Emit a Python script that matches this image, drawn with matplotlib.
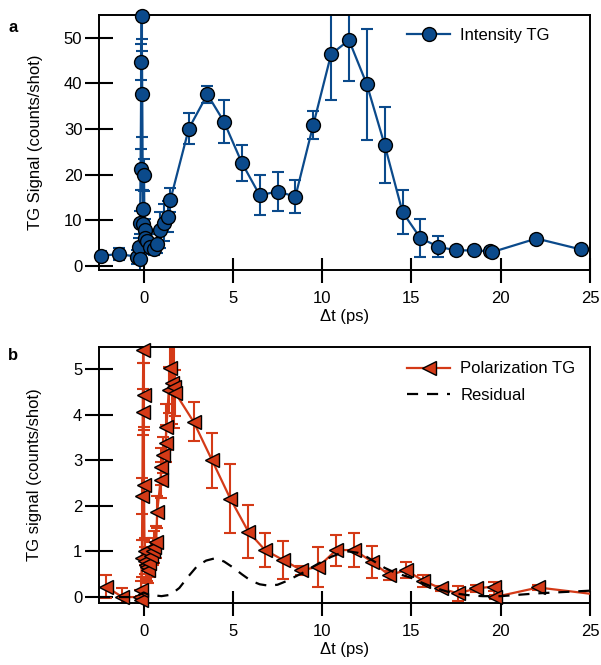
import matplotlib
matplotlib.use("Agg")
import matplotlib.pyplot as plt

plt.rcParams['font.family'] = ['Liberation Sans', 'DejaVu Sans']
plt.rcParams['font.size'] = 12

# ---- Panel a: Intensity TG ----
int_t = [-2.4, -1.4, -0.35, -0.26, -0.22, -0.2, -0.17, -0.13, -0.11, -0.08, -0.04,
         -0.02, 0.02, 0.05, 0.1, 0.17, 0.35, 0.57, 0.76, 0.9, 1.13, 1.35, 1.5,
         2.53, 3.57, 4.5, 5.5, 6.5, 7.5, 8.5, 9.5, 10.5, 11.5, 12.5, 13.5, 14.5,
         15.5, 16.5, 17.5, 18.5, 19.4, 19.5, 22.0, 24.5]
int_y = [2.2, 2.6, 2.0, 4.1, 1.6, 9.5, 21.2, 44.7, 54.7, 37.6, 12.4,
         9.1, 20.0, 7.8, 6.1, 5.5, 4.1, 3.8, 4.9, 7.9, 9.5, 10.8, 14.5,
         30.1, 37.6, 31.6, 22.6, 15.5, 16.3, 15.2, 30.9, 46.4, 49.5, 39.8, 26.5, 11.8,
         6.1, 4.2, 3.4, 3.4, 3.2, 3.0, 6.0, 3.6]
int_err = [1.0, 1.3, 1.5, 2.0, 3.1, 2.5, 4.5, 4.0, 5.0, 9.4, 4.2,
           3.0, 3.5, 2.5, 2.0, 2.0, 1.5, 1.5, 2.0, 4.0, 4.0, 3.4, 2.6,
           3.4, 1.8, 4.7, 3.9, 4.4, 4.2, 3.6, 3.0, 10.0, 8.9, 12.1, 8.4, 4.9,
           4.1, 2.3, 0.8, 0.8, 0.8, 0.8, 0.5, 0.5]

# ---- Panel b: Polarization TG ----
pol_t = [-2.12, -1.19, -0.2, -0.17, -0.15, -0.1, -0.07, -0.05, -0.02, 0.0, 0.02,
         0.05, 0.1, 0.15, 0.2, 0.25, 0.3, 0.4, 0.5, 0.6, 0.7, 0.76, 0.95, 1.0,
         1.1, 1.23, 1.28, 1.41, 1.5, 1.6, 1.69, 1.78, 2.8, 3.83, 4.85, 5.87,
         6.8, 7.82, 8.84, 9.77, 10.79, 11.81, 12.8, 13.76, 14.69, 15.65, 16.64,
         17.62, 18.62, 19.6, 19.66, 22.1, 25.5]
pol_y = [0.23, 0.0, 0.0, -0.07, 0.15, 0.85, 2.22, 4.06, 5.42, 4.43, 2.46,
         1.0, 0.8, 0.7, 0.65, 0.6, 0.75, 0.9, 1.0, 1.1, 1.2, 1.87, 2.57, 2.86,
         3.11, 3.37, 3.73, 4.54, 5.01, 4.69, 4.6, 4.47, 3.84, 3.0, 2.16, 1.43,
         1.03, 0.81, 0.59, 0.66, 1.03, 1.03, 0.77, 0.48, 0.59, 0.36, 0.19,
         0.08, 0.19, 0.23, 0.0, 0.21, 0.05]
pol_err = [0.26, 0.2, 0.15, 0.1, 0.2, 0.4, 0.4, 0.5, 0.3, 0.7, 1.2,
           0.3, 0.3, 0.3, 0.3, 0.3, 0.3, 0.3, 0.3, 0.35, 0.35, 0.35, 0.4, 0.4,
           0.4, 0.4, 0.5, 0.5, 0.5, 0.9, 0.9, 0.5, 0.43, 0.6, 0.76, 0.58,
           0.38, 0.41, 0.1, 0.44, 0.34, 0.37, 0.35, 0.1, 0.18, 0.13, 0.05,
           0.16, 0.08, 0.1, 0.05, 0.05, 0.0]

res_t = [-2.5, -0.5, 0.0, 0.3, 1.0, 1.5, 2.0, 2.5, 3.0, 3.5, 4.0, 4.5, 5.0, 5.5,
         6.0, 6.5, 7.0, 7.5, 8.0, 8.5, 9.0, 9.5, 10.0, 10.5, 11.0, 11.5, 12.0,
         12.5, 13.0, 13.5, 14.0, 14.5, 15.0, 15.5, 16.0, 16.5, 17.0, 17.5, 18.0,
         18.5, 19.0, 20.0, 21.0, 22.0, 23.0, 24.0, 25.0]
res_y = [0.0, 0.0, 0.1, 0.05, 0.02, 0.05, 0.2, 0.45, 0.68, 0.8, 0.85, 0.78,
         0.65, 0.5, 0.36, 0.28, 0.25, 0.27, 0.35, 0.45, 0.55, 0.67, 0.78, 0.88,
         0.96, 1.0, 0.97, 0.88, 0.76, 0.64, 0.55, 0.48, 0.42, 0.33, 0.25, 0.18,
         0.12, 0.08, 0.05, 0.03, 0.02, 0.02, 0.05, 0.08, 0.1, 0.12, 0.14]

x_ticks = [0, 5, 10, 15, 20, 25]
a_yticks = [0, 10, 20, 30, 40, 50]
b_yticks = [0, 1, 2, 3, 4, 5]

BLUE = '#0b4a8b'
RED = '#d43a17'

W, H = 601, 665
fig = plt.figure(figsize=(W / 100, H / 100), dpi=100)


def px_axes(l, t, r, b):
    return fig.add_axes([l / W, 1 - b / H, (r - l) / W, (b - t) / H])


ax1 = px_axes(99, 15, 590, 270)
ax2 = px_axes(99, 347, 590, 603)


def style(ax):
    for s in ax.spines.values():
        s.set_linewidth(1.4)
    ax.tick_params(axis='both', direction='inout', width=1.5,
                   labelsize=12, top=False, right=False)
    ax.tick_params(axis='y', length=20, pad=2)
    ax.tick_params(axis='x', length=18, pad=6)
    ax.set_xlim(-2.5, 25)
    ax.set_xticks(x_ticks)
    ax.set_xlabel('Δt (ps)', fontsize=12, labelpad=2)


# Panel a
ax1.errorbar(int_t, int_y, yerr=int_err, fmt='none', ecolor=BLUE,
             elinewidth=1.5, capsize=4, capthick=1.5, zorder=2)
ax1.plot(int_t, int_y, '-o', color=BLUE, lw=1.6, ms=10, mfc=BLUE, mec='black',
         mew=1.0, label='Intensity TG', zorder=3, clip_on=False)
style(ax1)
ax1.set_ylim(-0.9, 55)
ax1.set_yticks(a_yticks)
ax1.set_ylabel('TG Signal (counts/shot)', fontsize=12, labelpad=15)
ax1.legend(loc='upper left', bbox_to_anchor=(0.627, 0.948), frameon=False,
           handlelength=2.6, handletextpad=0.6, borderpad=0, borderaxespad=0,
           fontsize=12)

# Panel b
ax2.errorbar(pol_t, pol_y, yerr=pol_err, fmt='none', ecolor=RED,
             elinewidth=1.5, capsize=4, capthick=1.5, zorder=2)
ax2.plot(pol_t, pol_y, '-', color=RED, lw=1.6, zorder=3)
ax2.plot(pol_t[:-1], pol_y[:-1], ls='none', marker='<', ms=10, mfc=RED,
         mec='black', mew=1.0, zorder=3.5, clip_on=False)
ax2.plot([], [], '-<', color=RED, lw=1.6, ms=10, mfc=RED, mec='black',
         mew=1.0, label='Polarization TG')
ax2.plot(res_t, res_y, color='black', lw=1.6, ls=(0, (5, 4)), label='Residual',
         zorder=4)
style(ax2)
ax2.set_ylim(-0.13, 5.48)
ax2.set_yticks(b_yticks)
ax2.set_ylabel('TG signal (counts/shot)', fontsize=12, labelpad=22)
ax2.legend(loc='upper left', bbox_to_anchor=(0.627, 0.944), frameon=False,
           handlelength=2.6, handletextpad=0.6, borderpad=0, borderaxespad=0,
           labelspacing=0.68, fontsize=12)

fig.text(13 / W, 1 - 28 / H, 'a', fontsize=12, fontweight='bold', va='center', ha='center')
fig.text(13 / W, 1 - 355 / H, 'b', fontsize=12, fontweight='bold', va='center', ha='center')

fig.savefig('out.png', dpi=100)
